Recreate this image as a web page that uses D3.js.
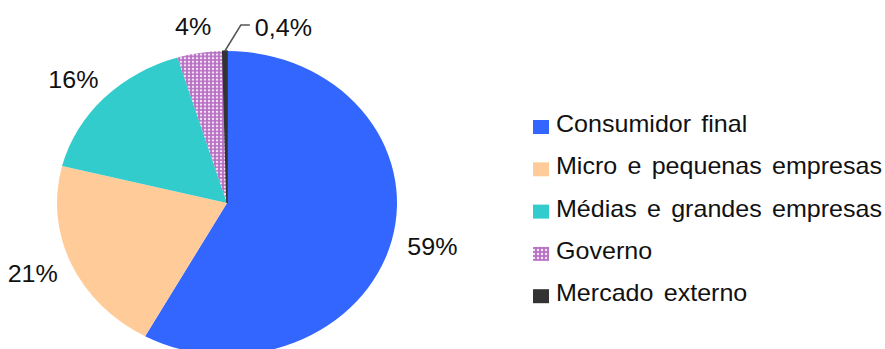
<!DOCTYPE html>
<html>
<head>
<meta charset="utf-8">
<script src="https://cdn.jsdelivr.net/npm/d3@7/dist/d3.min.js"></script>
<style>
  html, body { margin: 0; padding: 0; background: #fff; }
  svg { display: block; }
  text { font-family: "Liberation Sans", Arial, sans-serif; fill: #111; }
</style>
</head>
<body>
<svg id="chart" width="885" height="349"></svg>
<script>
// ---- data ----
const categories = ["Consumidor final", "Micro e pequenas empresas", "Médias e grandes empresas", "Governo", "Mercado externo"];
const values = [58.0, 20.9, 16.4, 4.3, 0.4];
const valueLabels = ["59%", "21%", "16%", "4%", "0,4%"];
const colors = ["#3366FF", "#FFCC99", "#33CCCC", "url(#govPattern)", "#333333"];

// ---- layout ----
const W = 885, H = 349;
const cx = 227, cy = 203;
const R = 170;            // horizontal radius
const ry = 152;           // vertical radius (picture is slightly stretched)
const sy = ry / R;
const labelRx = 212, labelRy = 178;
const textScaleX = 1.09;
const fontSize = 23;

const svg = d3.select("#chart");

// pattern for Governo
const defs = svg.append("defs");
const pat = defs.append("pattern")
  .attr("id", "govPattern")
  .attr("patternUnits", "userSpaceOnUse")
  .attr("width", 4).attr("height", 4);
pat.append("rect").attr("width", 4).attr("height", 4).attr("fill", "#b870c4");
pat.append("circle").attr("cx", 2).attr("cy", 2).attr("r", 1.25).attr("fill", "#f4e4f4");

const pie = d3.pie().sort(null).value(d => d)(values);
const arc = d3.arc().innerRadius(0).outerRadius(R);

const g = svg.append("g")
  .attr("transform", `translate(${cx},${cy}) scale(1,${sy})`);

g.selectAll("path")
  .data(pie)
  .join("path")
  .attr("d", arc)
  .attr("fill", (d, i) => colors[i])
  .attr("stroke", (d, i) => i === 4 ? "#333" : "none")
  .attr("stroke-width", (d, i) => i === 4 ? 1.5 : 0);

function ellPoint(a, rx, rry) {
  return [cx + Math.sin(a) * rx, cy - Math.cos(a) * rry];
}

function addText(x, y, str, anchor) {
  svg.append("text")
    .attr("transform", `translate(${x},${y}) scale(${textScaleX},1)`)
    .attr("text-anchor", anchor)
    .attr("font-size", fontSize)
    .attr("word-spacing", 3)
    .text(str);
}

// value labels
pie.forEach((d, i) => {
  const mid = (d.startAngle + d.endAngle) / 2;
  if (i < 4) {
    const [x, y] = ellPoint(mid, labelRx, labelRy);
    addText(x, y + 8, valueLabels[i], "middle");
  } else {
    const [x0, y0] = ellPoint(mid, R, ry);
    const p1 = [x0 + 16, y0 - 26];
    const p2 = [p1[0] + 9, p1[1]];
    svg.append("polyline")
      .attr("points", [[x0, y0], p1, p2].map(p => p.join(",")).join(" "))
      .attr("fill", "none")
      .attr("stroke", "#555")
      .attr("stroke-width", 1.5);
    addText(p2[0] + 5, p2[1] + 11, valueLabels[i], "start");
  }
});

// legend
const legX = 533, legY0 = 132, legStep = 42.3;
const leg = svg.append("g");
categories.forEach((c, i) => {
  const yb = legY0 + i * legStep;
  leg.append("rect")
    .attr("x", legX).attr("y", yb - 12)
    .attr("width", 16).attr("height", 14)
    .attr("fill", colors[i]);
  addText(legX + 23, yb, c, "start");
});
</script>
</body>
</html>
